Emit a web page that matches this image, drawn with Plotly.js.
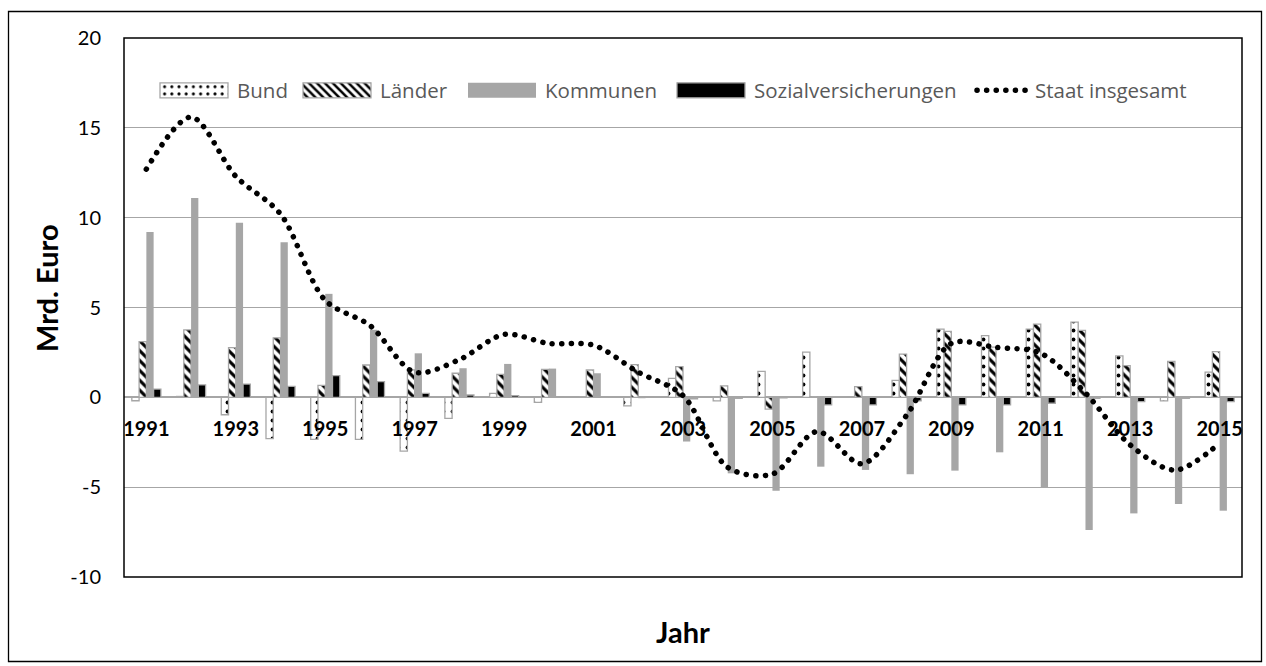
<!DOCTYPE html>
<html><head><meta charset="utf-8">
<script src="https://cdn.plot.ly/plotly-3.0.1.min.js"></script>
<style>
html,body{margin:0;padding:0;background:#fff;}
#chart{width:1266px;height:666px;}
.scatterlayer .js-line{stroke-linecap:round;}
.legendlines path{stroke-linecap:round;}
</style></head><body><div id="chart"></div>
<script>
const years = ["1991","1992","1993","1994","1995","1996","1997","1998","1999","2000","2001","2002","2003","2004","2005","2006","2007","2008","2009","2010","2011","2012","2013","2014","2015"];
const bund = [-0.19, 0.05, -0.97, -2.3, -2.34, -2.34, -2.99, -1.17, 0.22, -0.28, 0.03, -0.48, 1.06, -0.2, 1.44, 2.52, 0.02, 0.94, 3.8, 3.43, 3.8, 4.19, 2.31, -0.2, 1.4];
const laender = [3.1, 3.75, 2.77, 3.31, 0.67, 1.8, 1.53, 1.34, 1.28, 1.56, 1.52, 1.82, 1.71, 0.64, -0.66, 0.03, 0.6, 2.41, 3.67, 2.8, 4.08, 3.73, 1.76, 2.0, 2.54];
const kommunen = [9.2, 11.1, 9.72, 8.63, 5.76, 3.76, 2.45, 1.62, 1.86, 1.6, 1.34, -0.05, -2.46, -4.23, -5.2, -3.86, -4.04, -4.28, -4.08, -3.06, -5.01, -7.39, -6.46, -5.94, -6.31];
const sozial = [0.46, 0.69, 0.74, 0.61, 1.21, 0.87, 0.22, 0.13, 0.09, 0.02, 0.02, 0.02, -0.08, -0.05, -0.03, -0.42, -0.42, -0.2, -0.42, -0.42, -0.33, -0.05, -0.24, -0.05, -0.24];
const staat = [12.7, 15.6, 12.3, 10.2, 5.4, 4.0, 1.4, 2.1, 3.5, 3.0, 2.9, 1.4, 0.1, -3.9, -4.27, -1.9, -3.7, -1.0, 3.0, 2.78, 2.45, 0.24, -2.65, -4.05, -2.55];
const seriesNames = ["Bund", "Länder", "Kommunen", "Sozialversicherungen", "Staat insgesamt"];
const yTickVals = [-10, -5, 0, 5, 10, 15, 20];
const yTickText = ["-10", "-5", "0", "5", "10", "15", "20"];

const outline = {color: "#a6a6a6", width: 1.3};
const traces = [
  {type: "bar", name: seriesNames[0], x: years, y: bund, legend: "legend",
   marker: {color: "#ffffff", line: outline, pattern: {shape: ".", fgcolor: "#000000", bgcolor: "#ffffff", size: 9, solidity: 0.14}}},
  {type: "bar", name: seriesNames[1], x: years, y: laender, legend: "legend2",
   marker: {color: "#ffffff", line: outline, pattern: {shape: "\\", fgcolor: "#000000", bgcolor: "#ffffff", size: 7, solidity: 0.45}}},
  {type: "bar", name: seriesNames[2], x: years, y: kommunen, legend: "legend3",
   marker: {color: "#a6a6a6", line: {color: "#a6a6a6", width: 0}}},
  {type: "bar", name: seriesNames[3], x: years, y: sozial, legend: "legend4",
   marker: {color: "#000000", line: outline}},
  {type: "scatter", mode: "lines", name: seriesNames[4], x: years, y: staat, legend: "legend5",
   line: {color: "#000000", width: 5.5, dash: "0.1px,9.5px", shape: "spline", smoothing: 0.9}}
];

const L = 124, R = 24, T = 38, B = 89, W = 1266, H = 666;
const pw = W - L - R, ph = H - T - B;
const px2x = p => (p - L) / pw;
const px2y = p => (H - B - p) / ph;

const textStarts = [237, 380, 545, 754, 1035];
const legFont = {family: "'Open Sans', Lato, sans-serif", size: 20.5, color: "#595959"};
function leg(i){
  return {x: px2x(textStarts[i] - 80), xanchor: "left", y: px2y(90.5), yanchor: "middle",
          bgcolor: "rgba(0,0,0,0)", borderwidth: 0, font: legFont, itemwidth: 70,
          orientation: "h", itemclick: false, itemdoubleclick: false};
}

const titleFont = {family: "Lato, 'Open Sans', sans-serif", size: 29, color: "#000000", weight: "bold"};

const layout = {
  width: W, height: H,
  margin: {l: L, r: R, t: T, b: B, pad: 0},
  paper_bgcolor: "#ffffff", plot_bgcolor: "#ffffff",
  barmode: "group", bargap: 0.35, bargroupgap: 0,
  showlegend: true,
  legend: leg(0), legend2: leg(1), legend3: leg(2), legend4: leg(3), legend5: leg(4),
  xaxis: {type: "category", anchor: "free", position: 1/3, dtick: 2, tick0: 0,
          showgrid: false, showline: false, zeroline: false, ticks: "",
          ticklabelstandoff: 18,
          tickfont: {family: "Lato, 'Open Sans', sans-serif", size: 20, color: "#000000", weight: "bold"}},
  yaxis: {range: [-10, 20], tickmode: "array", tickvals: yTickVals, ticktext: yTickText,
          showgrid: true, gridcolor: "#a6a6a6", gridwidth: 1.3,
          zeroline: true, zerolinecolor: "#a6a6a6", zerolinewidth: 1.8,
          showline: false, ticks: "", ticklabelstandoff: 22,
          tickfont: {family: "Lato, 'Open Sans', sans-serif", size: 20, color: "#000000"}},
  shapes: [
    {type: "rect", xref: "paper", yref: "paper", x0: 0, x1: 1, y0: 0, y1: 1,
     line: {color: "#000000", width: 1.5}, layer: "above"},
    {type: "rect", xref: "paper", yref: "paper", x0: px2x(8.5), x1: px2x(1261.5), y0: px2y(661.5), y1: px2y(11.5),
     line: {color: "#000000", width: 1.3}, layer: "above"}
  ],
  annotations: [
    {text: "Jahr", xref: "paper", yref: "paper", x: 0.5, y: px2y(632), xanchor: "center", yanchor: "middle",
     showarrow: false, font: titleFont},
    {text: "Mrd. Euro", xref: "paper", yref: "paper", x: px2x(46), y: px2y(288), xanchor: "center", yanchor: "middle",
     textangle: -90, showarrow: false, font: titleFont}
  ]
};

// Legend symbols: widen Plotly's own legend swatches (itemwidth 70 -> swatch centred at x=40, text at x=80)
const BAR_D = "M31,7.5H-37V-7.5H31Z";
const LINE_D = "M22,0H74";
function fixLegend(){
  document.querySelectorAll('#chart .infolayer g.traces').forEach(tr => {
    tr.querySelectorAll('g.legendpoints path.legendundefined, g.legendpoints path.legendbar').forEach(p => {
      if(p.getAttribute('d') !== BAR_D) p.setAttribute('d', BAR_D);
    });
    tr.querySelectorAll('g.legendlines path').forEach(p => {
      if(p.getAttribute('d') !== LINE_D) p.setAttribute('d', LINE_D);
    });
  });
}

const gdEl = document.getElementById("chart");
const obs = new MutationObserver(() => fixLegend());
obs.observe(gdEl, {childList: true, subtree: true, attributes: true, attributeFilter: ["d"]});

Plotly.newPlot(gdEl, traces, layout, {displayModeBar: false, staticPlot: true}).then(gd => {
  fixLegend();
  gd.on('plotly_afterplot', fixLegend);
  [0, 50, 150, 400, 800].forEach(t => setTimeout(fixLegend, t));
});
</script></body></html>
